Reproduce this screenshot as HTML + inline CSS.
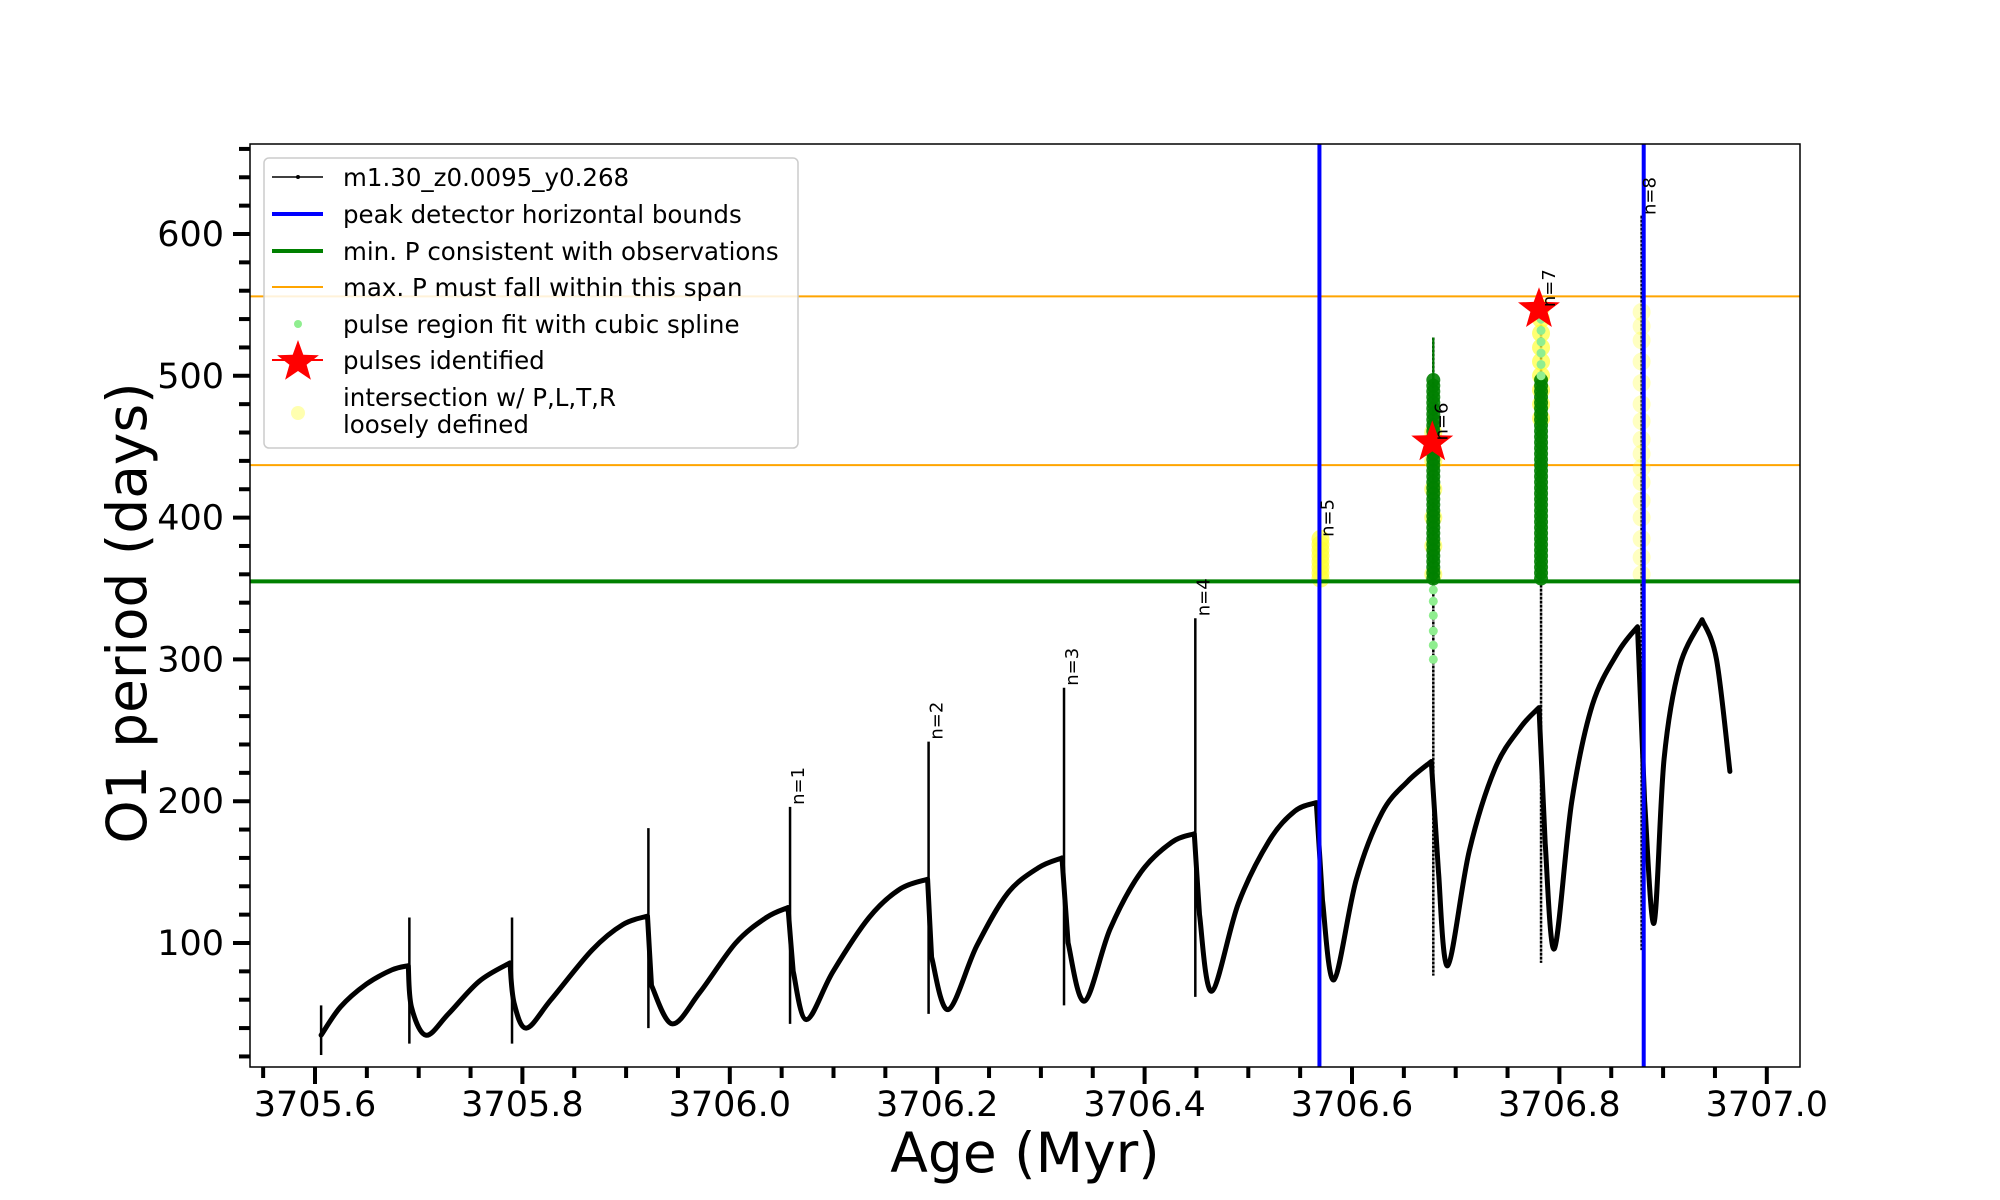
<!DOCTYPE html>
<html><head><meta charset="utf-8"><style>
html,body{margin:0;padding:0;background:#fff;}
svg{display:block;font-family:"DejaVu Sans","Liberation Sans",sans-serif;}
</style></head><body>
<svg id="chart" width="2000" height="1200" viewBox="0 0 2000 1200" xmlns="http://www.w3.org/2000/svg">
<rect width="2000" height="1200" fill="#fff"/>
<g id="plot"></g>
<g id="axes"></g>
<g id="legend"></g>
</svg>
<script>
// ---- data ----
const curveAge = [3705.6059,3705.6247,3705.6495,3705.6742,3705.6900,3705.6930,3705.7069,3705.7286,3705.7583,3705.7880,3705.7919,3705.8038,3705.8276,3705.8671,3705.8968,3705.9206,3705.9245,3705.9443,3705.9710,3706.0057,3706.0353,3706.0561,3706.0611,3706.0739,3706.0996,3706.1343,3706.1640,3706.1907,3706.1946,3706.2105,3706.2382,3706.2678,3706.2975,3706.3203,3706.3262,3706.3420,3706.3668,3706.3965,3706.4261,3706.4479,3706.4529,3706.4647,3706.4905,3706.5201,3706.5449,3706.5656,3706.5716,3706.5825,3706.6042,3706.6290,3706.6537,3706.6765,3706.6834,3706.6923,3706.7131,3706.7379,3706.7625,3706.7803,3706.7863,3706.7952,3706.8120,3706.8318,3706.8565,3706.8753,3706.8822,3706.8912,3706.9010,3706.9159,3706.9376,3706.9515,3706.9644];
const curveP   = [35,55,71,81,84,55,35,50,73,86,58,40,60,95,113,119,70,43,65,100,118,125,80,46,80,118,138,145,90,53,98,135,153,160,100,59,110,150,171,177,120,66,128,172,193,199,130,74,145,192,214,228,150,84,165,223,252,266,170,96,200,268,305,323,200,114,230,295,328,300,221];
const spikeAge = [3705.6059,3705.6910,3705.7900,3705.9215,3706.0581,3706.1917,3706.3223,3706.4489,3706.5686,3706.6784,3706.7823,3706.8793];
const spikeTop = [56,118,118,181,196,242,280,329,385,527,553,613];
const spikeBot = [21,29,29,40,43,50,56,62,71,77,86,95];
const labelAge = [3706.0581,3706.1917,3706.3223,3706.4489,3706.5686,3706.6784,3706.7823,3706.8793];
const labelP   = [196,242,280,329,385,453,547,612];
const labelText = ["n=1","n=2","n=3","n=4","n=5","n=6","n=7","n=8"];
const blueAges = [3706.5686,3706.8813];
const orangeP = [556,437];
const greenP = 355;
const greenAges = [3706.6784,3706.7823];
const greenVals = [357,361,365,369,373,377,381,385,389,393,397,401,405,409,413,417,421,425,429,433,437,441,445,449,453,457,461,465,469,473,477,481,485,489,493,497];
const lightAge6 = 3706.6784;
const lightVals6 = [300,310,320,331,341,349];
const lightAge7 = 3706.7823;
const lightVals7 = [500,508,516,524,532,540];
const yellowAge5 = 3706.5696;
const yellowVals5 = [357,361,365,369,373,377,381,385];
const yellowAge6 = 3706.6784;
const yellowVals6 = [360,380,400,420,440,460];
const yellowAge7 = 3706.7823;
const yellowVals7 = [470,480,490,500,510,520,530,540,548];
const yellowAge8 = 3706.8793;
const yellowVals8 = [360,372,385,400,412,425,435,445,455,468,480,495,510,525,535,545];
const starAge = [3706.6774,3706.7803];
const starP = [453,547];
const xTicks = [3705.6,3705.8,3706.0,3706.2,3706.4,3706.6,3706.8,3707.0];
const xTickLabels = ["3705.6","3705.8","3706.0","3706.2","3706.4","3706.6","3706.8","3707.0"];
const yTicks = [100,200,300,400,500,600];
const yTickLabels = ["100","200","300","400","500","600"];

// ---- axes ----
const L=250,R=1800,T=144,B=1067;
const X0=3705.6,XP0=315,XPX=1037;
const Y0=600,YP0=234,YPX=1.418;
function X(a){return XP0+(a-X0)*XPX;}
function Y(v){return YP0+(Y0-v)*YPX;}
const NS="http://www.w3.org/2000/svg";
function mk(tag,parent,attrs){const e=document.createElementNS(NS,tag);for(const k in attrs)e.setAttribute(k,attrs[k]);parent.appendChild(e);return e;}
const plot=document.getElementById('plot'),axes=document.getElementById('axes'),leg=document.getElementById('legend');
const defs=mk('defs',plot,{});
const cp=mk('clipPath',defs,{id:'clip'});
mk('rect',cp,{x:L,y:T,width:R-L,height:B-T});
const g=mk('g',plot,{'clip-path':'url(#clip)'});

orangeP.forEach((p,i)=>{const e=mk('line',g,{x1:L,x2:R,y1:Y(p),y2:Y(p),stroke:'#ffa500','stroke-width':2});

});
spikeAge.forEach((a,i)=>{const e=mk('line',g,{x1:X(a),x2:X(a),y1:Y(spikeTop[i]),y2:Y(spikeBot[i]),stroke:'#000','stroke-width':2.5,'stroke-dasharray':i>=8?'3 1':'none'});

});
const pts=curveAge.map((a,i)=>[X(a),Y(curveP[i])]);
const pieces=[];let cur=[pts[0]];
for(let i=1;i<pts.length;i++){cur.push(pts[i]);if(i<pts.length-2&&curveP[i+1]<curveP[i]-20){pieces.push(cur);cur=[pts[i]];}}
pieces.push(cur);
let d='';
pieces.forEach(pc=>{d+='M'+pc[0][0].toFixed(1)+' '+pc[0][1].toFixed(1);
for(let i=0;i<pc.length-1;i++){const p0=pc[i-1]||pc[i],p1=pc[i],p2=pc[i+1],p3=pc[i+2]||p2;
const c1=[p1[0]+(p2[0]-p0[0])/6,p1[1]+(p2[1]-p0[1])/6],c2=[p2[0]-(p3[0]-p1[0])/6,p2[1]-(p3[1]-p1[1])/6];
d+='C'+c1[0].toFixed(1)+' '+c1[1].toFixed(1)+' '+c2[0].toFixed(1)+' '+c2[1].toFixed(1)+' '+p2[0].toFixed(1)+' '+p2[1].toFixed(1);}});
const c=mk('path',g,{d:d,fill:'none',stroke:'#000','stroke-width':5,'stroke-linejoin':'round','stroke-linecap':'round'});


function yel(age,vals,op){vals.forEach(v=>{const e=mk('circle',g,{cx:X(age),cy:Y(v),r:9,fill:'#ffff33','fill-opacity':op});

});}
yel(yellowAge5,yellowVals5,0.7);yel(yellowAge6,yellowVals6,0.6);yel(yellowAge7,yellowVals7,0.7);yel(yellowAge8,yellowVals8,0.3);
greenAges.forEach(a=>{greenVals.forEach(v=>{const e=mk('circle',g,{cx:X(a),cy:Y(v),r:7,fill:'#008000','fill-opacity':0.9});

});});
function lg(age,vals){vals.forEach(v=>{const e=mk('circle',g,{cx:X(age),cy:Y(v),r:4.5,fill:'#90ee90'});

});}
lg(lightAge6,lightVals6);lg(lightAge7,lightVals7);
const st=mk('line',g,{x1:X(greenAges[0]),x2:X(greenAges[0]),y1:Y(527),y2:Y(497),stroke:'#008000','stroke-width':2});


const gl=mk('line',g,{x1:L,x2:R,y1:Y(greenP),y2:Y(greenP),stroke:'#008000','stroke-width':4});


blueAges.forEach((a,i)=>{const e=mk('line',g,{x1:X(a),x2:X(a),y1:T,y2:B,stroke:'#0000ff','stroke-width':4});

});
function starPts(cx,cy,ro,ri){let s='';for(let k=0;k<10;k++){const r=k%2?ri:ro;const an=-Math.PI/2+k*Math.PI/5;s+=(cx+r*Math.cos(an)).toFixed(1)+','+(cy+r*Math.sin(an)).toFixed(1)+' ';}return s;}
starAge.forEach((a,i)=>{const e=mk('polygon',g,{points:starPts(X(a),Y(starP[i]),22,9),fill:'#ff0000'});

});
labelAge.forEach((a,i)=>{const x=X(a)+14,y=Y(labelP[i])-2;const e=mk('text',g,{x:x,y:y,'font-size':18,transform:'rotate(-90 '+x+' '+y+')'});e.textContent=labelText[i];

});

const fr=mk('rect',axes,{x:L,y:T,width:R-L,height:B-T,fill:'none',stroke:'#000','stroke-width':1.5});


for(let k=0;k<=30;k++){const a=3705.55+k*0.05;const x=X(a);if(x<L-1||x>R+1)continue;const major=Math.abs(((a-3705.6)/0.2)-Math.round((a-3705.6)/0.2))<0.01;
const e=mk('line',axes,{x1:x,x2:x,y1:B,y2:B+(major?17:11),stroke:'#000','stroke-width':4});

}
xTicks.forEach((a,i)=>{const e=mk('text',axes,{x:X(a),y:1116,'font-size':35,'text-anchor':'middle'});e.textContent=xTickLabels[i];

});
for(let v=20;v<=660;v+=20){const y=Y(v);if(y>B+1||y<T-1)continue;const major=v%100===0;
const e=mk('line',axes,{x1:L,x2:L-(major?17:11),y1:y,y2:y,stroke:'#000','stroke-width':4});

}
yTicks.forEach((v,i)=>{const e=mk('text',axes,{x:L-26,y:Y(v)+12,'font-size':35,'text-anchor':'end'});e.textContent=yTickLabels[i];

});
const xt=mk('text',axes,{x:1025,y:1172,'font-size':55,'text-anchor':'middle'});xt.textContent='Age (Myr)';


const yt=mk('text',axes,{x:0,y:0,'font-size':55,'text-anchor':'middle',transform:'translate(146 613) rotate(-90)'});yt.textContent='O1 period (days)';



const lb=mk('rect',leg,{x:264,y:158,width:534,height:290,rx:5,fill:'#fff','fill-opacity':0.85,stroke:'#cccccc','stroke-width':1.5});


const rows=[['m1.30_z0.0095_y0.268',177],['peak detector horizontal bounds',214],['min. P consistent with observations',251],['max. P must fall within this span',287],['pulse region fit with cubic spline',324],['pulses identified',360],['intersection w/ P,L,T,R',397],['loosely defined',424]];
rows.forEach(r=>{const e=mk('text',leg,{x:343,y:r[1]+9,'font-size':24.5});e.textContent=r[0];

});
let h;
h=mk('line',leg,{x1:272,x2:323,y1:177,y2:177,stroke:'#000','stroke-width':1.5});
mk('circle',leg,{cx:298,cy:177,r:2,fill:'#000'});
h=mk('line',leg,{x1:272,x2:323,y1:214,y2:214,stroke:'#0000ff','stroke-width':4});
h=mk('line',leg,{x1:272,x2:323,y1:251,y2:251,stroke:'#008000','stroke-width':4});
h=mk('line',leg,{x1:272,x2:323,y1:287,y2:287,stroke:'#ffa500','stroke-width':2});
h=mk('circle',leg,{cx:298,cy:324,r:4,fill:'#90ee90'});
h=mk('polygon',leg,{points:starPts(298,362,22,9),fill:'#ff0000'});
mk('line',leg,{x1:272,x2:323,y1:360,y2:360,stroke:'#ff0000','stroke-width':2});
h=mk('circle',leg,{cx:298,cy:413,r:7,fill:'#ffffb0'});
</script>
</body></html>
